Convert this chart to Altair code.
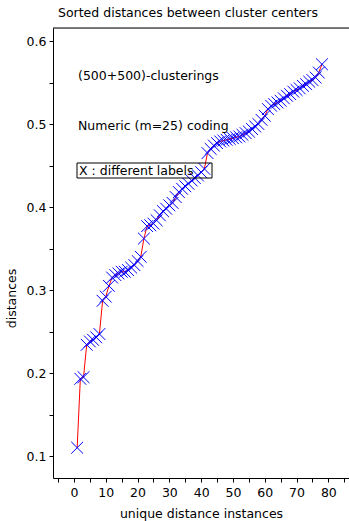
import altair as alt
import pandas as pd

idx = list(range(1, 79))
dist = [0.110, 0.193, 0.195, 0.234, 0.238, 0.240, 0.243, 0.247, 0.287, 0.292,
        0.305, 0.315, 0.318, 0.320, 0.322, 0.322, 0.324, 0.327, 0.330, 0.335,
        0.340, 0.362, 0.377, 0.378, 0.380, 0.384, 0.390, 0.395, 0.398, 0.402,
        0.405, 0.412, 0.418, 0.422, 0.425, 0.428, 0.432, 0.435, 0.438, 0.442,
        0.446, 0.465, 0.470, 0.474, 0.477, 0.479, 0.480, 0.481, 0.482, 0.483,
        0.484, 0.485, 0.487, 0.489, 0.491, 0.494, 0.497, 0.500, 0.505, 0.510,
        0.518, 0.522, 0.524, 0.526, 0.528, 0.531, 0.534, 0.536, 0.539, 0.541,
        0.543, 0.546, 0.548, 0.551, 0.553, 0.556, 0.562, 0.572]

x_ticks = [-5, 0, 5, 10, 15, 20, 25, 30, 35, 40, 45, 50, 55, 60, 65, 70, 75, 80, 85]
y_ticks = [0.1, 0.15, 0.2, 0.25, 0.3, 0.35, 0.4, 0.45, 0.5, 0.55, 0.6]
notes = ["(500+500)-clusterings", "Numeric (m=25) coding", "X : different labels"]

df = pd.DataFrame({"i": idx, "d": dist})
FONT = "DejaVu Sans"
FS = 12.5

xs = alt.Scale(domain=[-6.6, 86.5], nice=False, zero=False)
ys = alt.Scale(domain=[0.0735, 0.6157], nice=False, zero=False)

xaxis = alt.Axis(values=x_ticks, labelExpr="datum.value % 10 == 0 ? datum.label : ''",
                 labelOverlap=False, labelFlush=False,
                 title="unique distance instances", grid=False, tickSize=4,
                 domainColor="black", tickColor="black", labelColor="black",
                 labelFont=FONT, labelFontSize=FS, titleFont=FONT, titleFontSize=FS,
                 titleFontWeight="normal", labelPadding=4, titlePadding=9)
yaxis = alt.Axis(values=y_ticks, labelExpr="round(datum.value*100) % 10 == 0 ? datum.label : ''",
                 labelOverlap=False, labelFlush=False,
                 format=".1f", title="distances", grid=False, tickSize=4,
                 domainColor="black", tickColor="black", labelColor="black",
                 labelFont=FONT, labelFontSize=FS, titleFont=FONT, titleFontSize=FS,
                 titleFontWeight="normal", labelPadding=3, titlePadding=8, titleY=270)

base = alt.Chart(df)
line = base.mark_line(color="#ff0000", strokeWidth=1).encode(
    x=alt.X("i:Q", scale=xs, axis=xaxis), y=alt.Y("d:Q", scale=ys, axis=yaxis))
pts = base.mark_point(shape="M-1,-1L1,1M-1,1L1,-1", size=140, color="#0000ff",
                      strokeWidth=1, filled=False, opacity=1).encode(
    x=alt.X("i:Q", scale=xs, axis=xaxis), y=alt.Y("d:Q", scale=ys, axis=yaxis))

one = pd.DataFrame({"a": [0]})
topline = alt.Chart(one).mark_rule(color="black", strokeWidth=1).encode(
    x=alt.value(0), x2=alt.value(296), y=alt.value(0))

def note(t, px, py):
    return alt.Chart(one).mark_text(align="left", baseline="middle", font=FONT,
                                    fontSize=FS, color="black", text=t).encode(
        x=alt.value(px), y=alt.value(py))

box = alt.Chart(one).mark_rect(fill="white", fillOpacity=0, stroke="black",
                               strokeWidth=1).encode(
    x=alt.value(24), x2=alt.value(159), y=alt.value(135), y2=alt.value(150))

chart = alt.layer(
    topline, line, pts,
    note(notes[0], 25, 48), note(notes[1], 25, 98), note(notes[2], 26, 143), box
).properties(
    width=296, height=450,
    title=alt.Title("Sorted distances between cluster centers", anchor="start", frame="group",
                    dx=5, font=FONT, fontSize=FS, fontWeight="normal", color="black", offset=8),
    padding={"left": 53, "top": 28, "right": 0, "bottom": 43},
    autosize=alt.AutoSizeParams(type="none"),
).configure_view(stroke=None).configure(background="white")

chart.save("out.html", embed_options={"renderer": "svg", "actions": False})
